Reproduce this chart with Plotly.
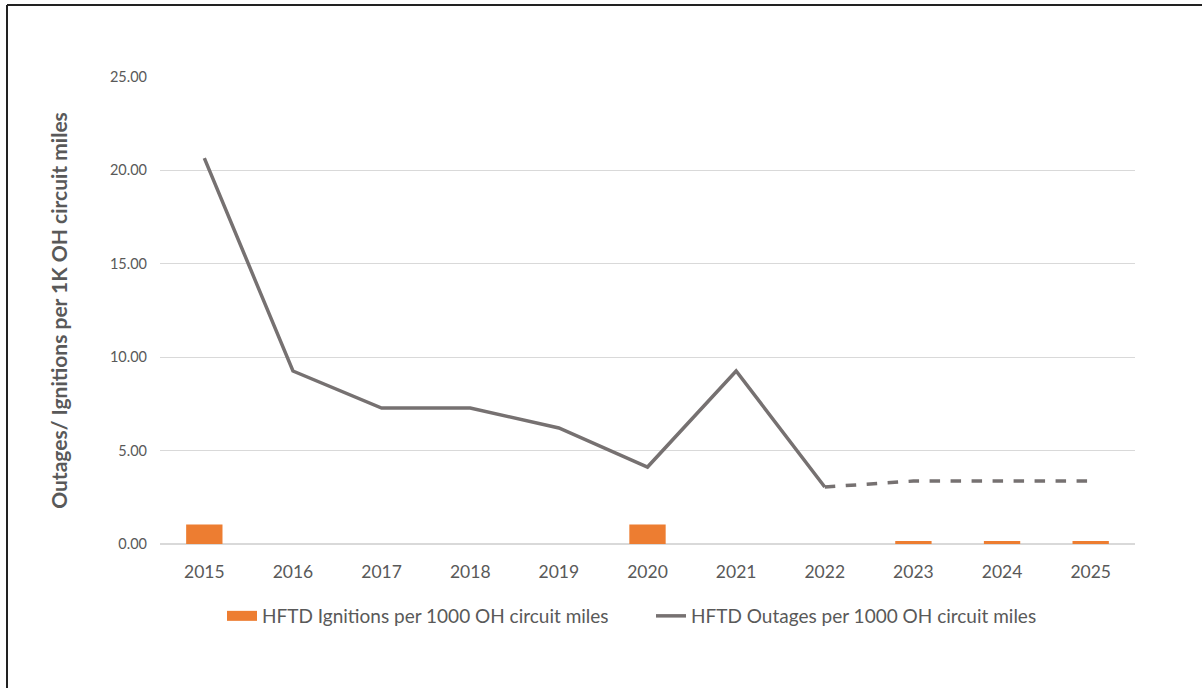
import plotly.graph_objects as go

years = ["2015", "2016", "2017", "2018", "2019", "2020", "2021", "2022", "2023", "2024", "2025"]
ignitions = [1.05, 0, 0, 0, 0, 1.05, 0, 0, 0.16, 0.16, 0.16]
outages_actual = [20.66, 9.26, 7.28, 7.28, 6.21, 4.12, 9.26, 3.05, None, None, None]
outages_forecast = [None, None, None, None, None, None, None, 3.05, 3.37, 3.37, 3.37]
y_ticks = [0, 5, 10, 15, 20, 25]
y_tick_text = ["0.00", "5.00", "10.00", "15.00", "20.00", "25.00"]

W, H = 1202, 688
L, R, T, B = 160, 67, 77, 144
pw, ph = W - L - R, H - T - B


def px(x):
    return (x - L) / pw


def py(y):
    return (H - B - y) / ph


FONT = "Lato, 'Open Sans', sans-serif"
GRAY_TXT = "#595959"
ORANGE = "#ED7D31"
LINE = "#767171"
IGN_NAME = "HFTD Ignitions per 1000 OH circuit miles"
OUT_NAME = "HFTD Outages per 1000 OH circuit miles"

fig = go.Figure()
fig.add_trace(go.Bar(
    x=years, y=ignitions, name=IGN_NAME, showlegend=False, legendgroup="ign",
    marker=dict(color=ORANGE, line=dict(width=0)),
))
# wide flat swatch for the bar series in the legend
fig.add_trace(go.Scatter(
    x=[None], y=[None], mode="lines", name=IGN_NAME, legendgroup="ign",
    line=dict(color=ORANGE, width=12),
))
fig.add_trace(go.Scatter(
    x=years, y=outages_actual, mode="lines", name=OUT_NAME,
    line=dict(color=LINE, width=3.5),
))
fig.add_trace(go.Scatter(
    x=years, y=outages_forecast, mode="lines", showlegend=False,
    line=dict(color=LINE, width=3.5, dash="dash"),
))

fig.update_layout(
    width=W, height=H,
    margin=dict(l=L, r=R, t=T, b=B),
    paper_bgcolor="white", plot_bgcolor="white",
    bargap=0.59,
    font=dict(family=FONT, color=GRAY_TXT),
    showlegend=True,
    legend=dict(
        orientation="h", x=px(651), xanchor="center", y=py(616), yanchor="middle",
        font=dict(size=19, color=GRAY_TXT), traceorder="normal",
        entrywidth=384, entrywidthmode="pixels",
    ),
    xaxis=dict(
        type="category", showgrid=False, showline=False, ticks="",
        tickfont=dict(size=17.5, color=GRAY_TXT), ticklabelstandoff=15,
    ),
    yaxis=dict(
        range=[0, 25], tickvals=y_ticks, ticktext=y_tick_text,
        showgrid=True, gridcolor="#D9D9D9", gridwidth=1,
        zeroline=True, zerolinecolor="#D9D9D9", zerolinewidth=1.5,
        showline=False, ticks="",
        tickfont=dict(size=14.5, color=GRAY_TXT), ticklabelstandoff=12,
        title=dict(text="<b>Outages/ Ignitions per 1K OH circuit miles</b>",
                   font=dict(size=21, color=GRAY_TXT), standoff=36),
    ),
    shapes=[
        dict(type="line", xref="paper", yref="paper", x0=px(7), x1=px(1202), y0=py(5), y1=py(5),
             line=dict(color="#222222", width=2)),
        dict(type="line", xref="paper", yref="paper", x0=px(7), x1=px(7), y0=py(5), y1=py(688),
             line=dict(color="#222222", width=2)),
    ],
)

fig.write_html("out.html")
